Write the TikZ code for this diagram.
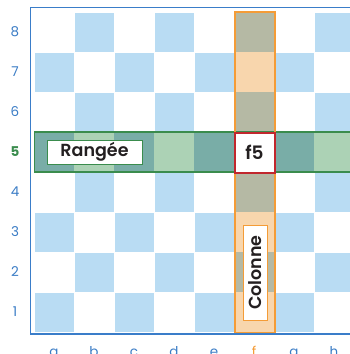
\documentclass[tikz,border=0pt]{standalone}
\usepackage{fontspec}
\setmainfont{Poppins}
\newfontfamily\pmed{Poppins SemiBold}
\usetikzlibrary{shadows}
\definecolor{sqblue}{HTML}{B9DCF3}
\definecolor{rowdark}{HTML}{79ADA7}
\definecolor{rowlight}{HTML}{ACD2B5}
\definecolor{coldark}{HTML}{B5B9A4}
\definecolor{collight}{HTML}{F8D6AD}
\definecolor{rowline}{HTML}{3A8C4D}
\definecolor{colline}{HTML}{F49C37}
\definecolor{frameblue}{HTML}{3A7DC9}
\definecolor{labblue}{HTML}{3A7CC5}
\definecolor{fivered}{HTML}{C1272D}
\definecolor{txt}{HTML}{231F20}
\tikzset{
  ranklab/.style={text=labblue,font=\fontsize{13.5}{14}\selectfont,anchor=center},
  filelab/.style={text=labblue,font=\fontsize{13.5}{14}\selectfont,anchor=base},
  tagbox/.style={fill=white,inner sep=0pt,text=txt,font=\pmed\fontsize{17.5}{18}\selectfont,
    drop shadow={shadow xshift=1pt,shadow yshift=-1.2pt,opacity=0.25}},
}
\begin{document}
\begin{tikzpicture}[x=1pt,y=-1pt]
\useasboundingbox (0,0) rectangle (350,354);
\begin{scope}
\clip (0,0) rectangle (350,354);
% squares
\foreach \f in {0,...,7}{\foreach \r in {0,...,7}{
  \ifodd\numexpr\f+\r\relax
    \fill[sqblue] ({34+40*\f+0.5},{12+40*\r+0.5}) rectangle ++(39,39);
  \fi}}
% row 5
\foreach \f in {0,1,2,3,4,6,7}{
  \ifodd\numexpr\f+3\relax
    \fill[rowdark] ({34+40*\f},132) rectangle ++(40,40);
  \else
    \fill[rowlight] ({34+40*\f},132) rectangle ++(40,40);
  \fi}
% column f
\foreach \r in {0,1,2,4,5,6,7}{
  \ifodd\numexpr5+\r\relax
    \fill[coldark] (234,{12+40*\r}) rectangle ++(40,40);
  \else
    \fill[collight] (234,{12+40*\r}) rectangle ++(40,40);
  \fi}
\draw[rowline,line width=1.8pt] (34.5,132) rectangle (360,172);
\draw[colline,line width=1.8pt] (235,12) rectangle (275,332.5);
% frame
\draw[frameblue,line width=1.5pt] (360,7.5) -- (30.5,7.5) -- (30.5,334) -- (360,334);
% labels
\foreach \n/\y in {8/32,7/72,6/112,4/192,3/232,2/272,1/312}{
  \node[ranklab] (r\n) at (15,\y) {\n};}
\node[ranklab,text=rowline,font=\bfseries\fontsize{13.5}{14}\selectfont] (r5) at (15,152) {5};
\foreach \l/\x in {a/54,b/94,c/134,d/174,e/214,g/294,h/334}{
  \node[filelab] (f\l) at (\x,356) {\l};}
\node[filelab,text=colline] (ff) at (254,356) {f};
% boxes
\node[tagbox,draw=rowline,line width=1pt,minimum width=95pt,minimum height=24pt] (rangee) at (94.5,152) {Rangée};
\node[fill=white,draw=fivered,line width=2pt,inner sep=0pt,minimum size=40pt,text=txt,font=\pmed\fontsize{18.5}{20}\selectfont] (f5) at (254.5,152.5) {f5};
\node[tagbox,draw=colline,line width=1pt,minimum width=95pt,minimum height=24pt,rotate=90] (colonne) at (255,272.5) {Colonne};
\end{scope}
\end{tikzpicture}
\end{document}
